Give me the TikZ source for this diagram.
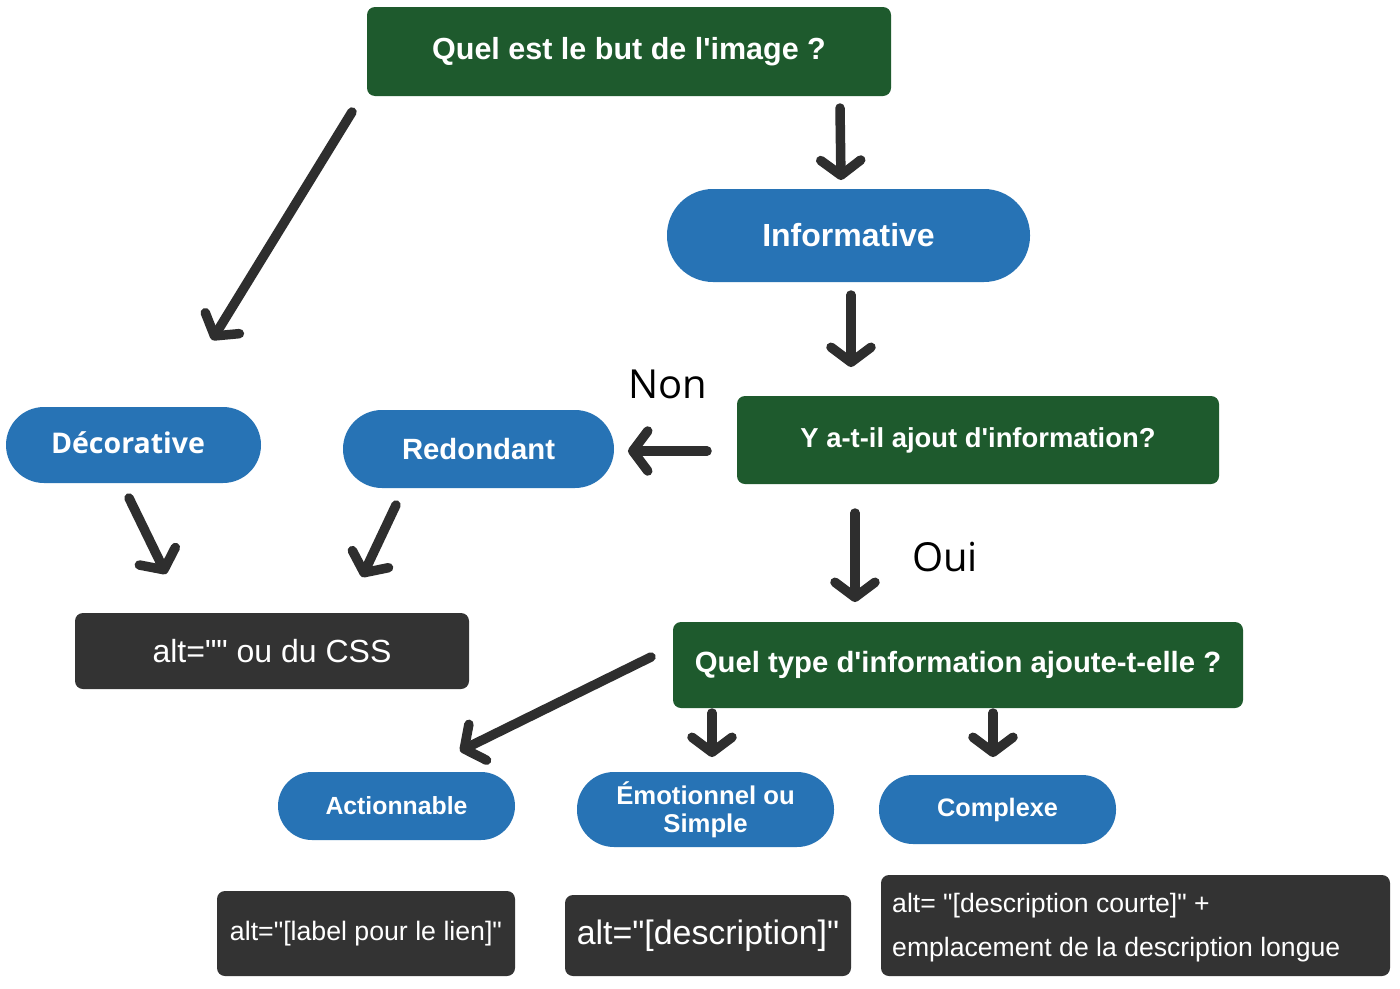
\documentclass[tikz,border=0pt]{standalone}
\usepackage{fontspec}
\usetikzlibrary{arrows.meta}
\newfontfamily\fb{Liberation Sans}
\newfontfamily\fo{Open Sans}
\definecolor{gbox}{HTML}{1E5A2D}
\definecolor{bbox}{HTML}{2773B5}
\definecolor{dbox}{HTML}{333333}
\definecolor{arrc}{HTML}{2E2E2E}
\tikzset{
  greenbox/.style={fill=gbox, rounded corners=8pt, inner sep=0pt, text=white, font=\fb\bfseries},
  pill/.style={fill=bbox, inner sep=0pt, text=white, font=\fb\bfseries},
  darkbox/.style={fill=dbox, rounded corners=8pt, inner sep=0pt, text=white, font=\fb},
  arr/.style={draw=arrc, line width=9.5pt, line cap=round,
    -{Straight Barb[round, length=15pt, width=40pt]}},
  lbl/.style={inner sep=0pt, font=\fo\fontsize{40}{44}\selectfont, text=black}
}
\begin{document}
\begin{tikzpicture}[x=1pt, y=-1pt]
\useasboundingbox (0,0) rectangle (1400,988);
\fill[white] (0,0) rectangle (1400,988);

\node[greenbox, minimum width=524pt, minimum height=89pt, font=\fb\bfseries\fontsize{30.5}{34}\selectfont] (q1) at (629,51.5) {Quel est le but de l'image ?};
\node[pill, rounded corners=46pt, minimum width=363pt, minimum height=93pt, font=\fb\bfseries\fontsize{32}{36}\selectfont] (info) at (848.5,235.5) {Informative};
\node[greenbox, minimum width=482pt, minimum height=88pt, font=\fb\bfseries\fontsize{27.4}{30}\selectfont] (q2) at (978,440) {Y a-t-il ajout d'information?};
\node[pill, rounded corners=38pt, minimum width=255pt, minimum height=76pt] (deco) at (133.5,445) {};
\node[inner sep=0pt, text=white, font=\fo\bfseries\fontsize{28.5}{31}\selectfont] (decot) at (128,443) {Décorative};
\node[pill, rounded corners=39pt, minimum width=271pt, minimum height=78pt, font=\fb\bfseries\fontsize{29.3}{32}\selectfont] (redon) at (478.5,449) {Redondant};
\node[darkbox, minimum width=394pt, minimum height=76pt, font=\fb\fontsize{32}{35}\selectfont] (alt1) at (272,651) {alt="" ou du CSS};
\node[greenbox, minimum width=570pt, minimum height=86pt, font=\fb\bfseries\fontsize{29.3}{32}\selectfont] (q3) at (958,665) {Quel type d'information ajoute-t-elle ?};
\node[pill, rounded corners=34pt, minimum width=237pt, minimum height=68pt, font=\fb\bfseries\fontsize{24.8}{27}\selectfont] (act) at (396.5,806) {Actionnable};
\node[pill, rounded corners=37pt, minimum width=257pt, minimum height=75pt, align=center, font=\fb\bfseries\fontsize{25.7}{28}\selectfont] (emo) at (705.5,809.5) {Émotionnel ou\\Simple};
\node[pill, rounded corners=34pt, minimum width=237pt, minimum height=69pt, font=\fb\bfseries\fontsize{25.3}{28}\selectfont] (cpx) at (997.5,809.5) {Complexe};
\node[darkbox, minimum width=298pt, minimum height=85pt, font=\fb\fontsize{26.7}{29}\selectfont] (alt2) at (366,933.5) {alt="[label pour le lien]"};
\node[darkbox, minimum width=286pt, minimum height=81pt, font=\fb\fontsize{33.9}{37}\selectfont] (alt3) at (708,935.5) {alt="[description]"};
\node[darkbox, minimum width=509pt, minimum height=101pt] (alt4) at (1135.5,925.5) {};
\node[inner sep=0pt, text=white, align=left, anchor=west, font=\fb\fontsize{26.6}{44}\selectfont] (alt4t) at (892,928) {alt= "[description courte]" +\\emplacement de la description longue};

\node[lbl] (non) at (668,384) {Non};
\node[lbl] (oui) at (945,557) {Oui};

\coordinate (a1s) at (352,112); \coordinate (a1e) at (212,340);
\coordinate (a2s) at (840,108); \coordinate (a2e) at (841,180);
\coordinate (a3s) at (851,295); \coordinate (a3e) at (851,367);
\coordinate (ans) at (707,451); \coordinate (ane) at (628,451);
\coordinate (aos) at (855,513); \coordinate (aoe) at (855,602);
\coordinate (ads) at (129,498); \coordinate (ade) at (166,574);
\coordinate (ars) at (396,505); \coordinate (are) at (362,577);
\coordinate (aas) at (651,657); \coordinate (aae) at (460,751);
\coordinate (aes) at (712,713); \coordinate (aee) at (712,757);
\coordinate (acs) at (993,713); \coordinate (ace) at (993,757);

\draw[arr] (a1s) -- (a1e);
\draw[arr] (a2s) -- (a2e);
\draw[arr] (a3s) -- (a3e);
\draw[arr] (ans) -- (ane);
\draw[arr] (aos) -- (aoe);
\draw[arr] (ads) -- (ade);
\draw[arr] (ars) -- (are);
\draw[arr] (aas) -- (aae);
\draw[arr] (aes) -- (aee);
\draw[arr] (acs) -- (ace);
\end{tikzpicture}
\end{document}
